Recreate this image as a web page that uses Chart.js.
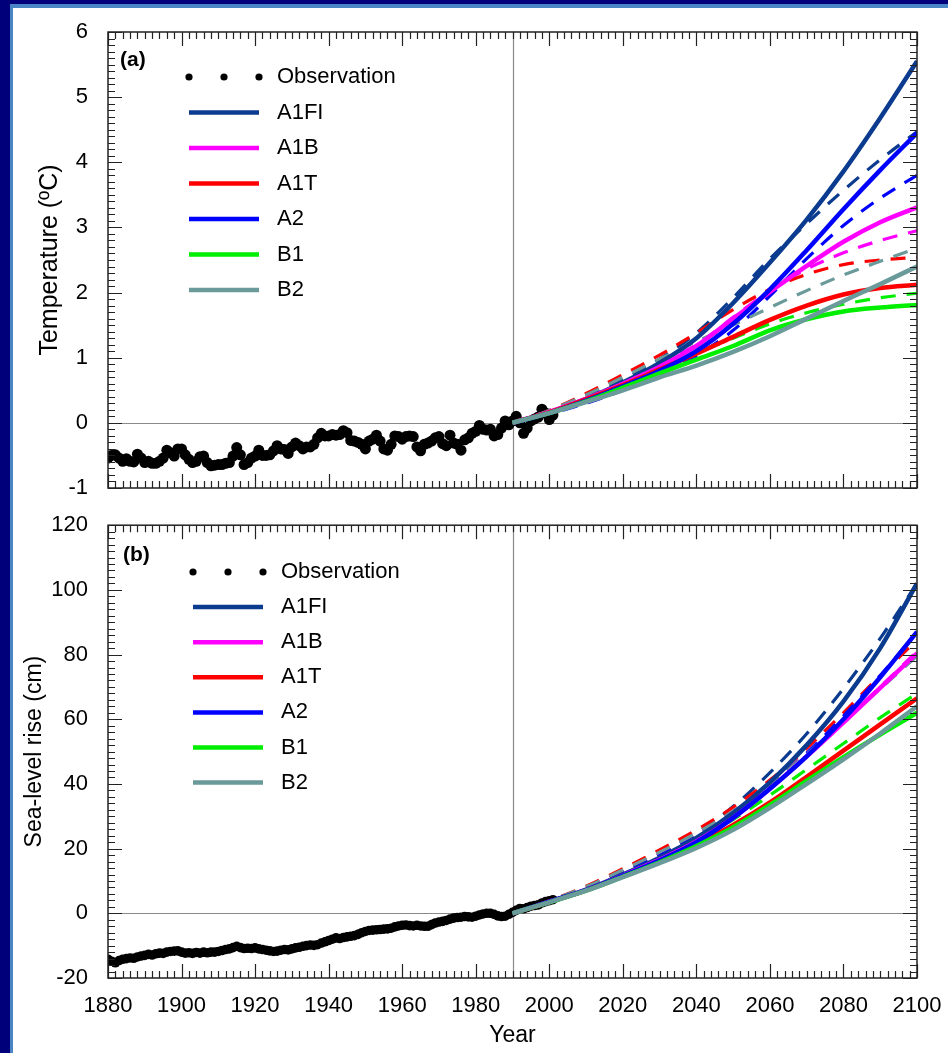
<!DOCTYPE html>
<html>
<head>
<meta charset="utf-8">
<script src="https://cdn.jsdelivr.net/npm/chart.js@4.4.1/dist/chart.umd.min.js"></script>
<style>
  html, body { margin: 0; padding: 0; }
  body { width: 948px; height: 1053px; background: #00007a; position: relative; overflow: hidden; }
  #paper { position: absolute; left: 10px; top: 4px; width: 945px; height: 1060px; background: #fff;
           border-left: 3px solid #4a86c5; border-top: 4px solid #4a86c5; }
  #chartTemp { position: absolute; left: 0; top: 0; }
  #chartSea { position: absolute; left: 0; top: 500px; }
</style>
</head>
<body>
<div id="paper"></div>
<canvas id="chartTemp" width="948" height="520"></canvas>
<canvas id="chartSea" width="960" height="553"></canvas>
<script>
// scenario names and colours (legend order)
const scenarios = ['A1FI', 'A1B', 'A1T', 'A2', 'B1', 'B2'];
const scenarioColors = ['#0b3b8f', '#ff00ff', '#ff0000', '#0000ff', '#00ee00', '#6a9a9a'];

// projection years
const projYears = [1990, 2000, 2010, 2020, 2030, 2040, 2050, 2060, 2070, 2080, 2090, 2100];

// (a) temperature, solid lines
const tA1FI = [0, 0.16, 0.37, 0.62, 0.92, 1.3, 1.84, 2.46, 3.12, 3.86, 4.68, 5.55];
const tA1B  = [0, 0.17, 0.37, 0.6, 0.86, 1.18, 1.6, 2.01, 2.41, 2.78, 3.08, 3.31];
const tA1T  = [0, 0.16, 0.36, 0.58, 0.82, 1.06, 1.32, 1.58, 1.8, 1.97, 2.07, 2.12];
const tA2   = [0, 0.15, 0.34, 0.56, 0.8, 1.1, 1.52, 2.05, 2.65, 3.28, 3.88, 4.45];
const tB1   = [0, 0.15, 0.33, 0.54, 0.76, 0.97, 1.18, 1.42, 1.59, 1.71, 1.77, 1.81];
const tB2   = [0, 0.15, 0.32, 0.5, 0.7, 0.88, 1.09, 1.33, 1.6, 1.87, 2.13, 2.4];
// (a) temperature, dashed lines
const tA1FId = [0, 0.18, 0.4, 0.66, 0.98, 1.38, 1.92, 2.52, 3.06, 3.57, 4.04, 4.47];
const tA1Bd  = [0, 0.17, 0.38, 0.62, 0.9, 1.2, 1.62, 2.03, 2.36, 2.61, 2.8, 2.95];
const tA1Td  = [0, 0.19, 0.45, 0.74, 1.04, 1.38, 1.74, 2.05, 2.28, 2.43, 2.5, 2.54];
const tA2d   = [0, 0.14, 0.3, 0.5, 0.74, 1.03, 1.42, 1.95, 2.52, 3.03, 3.45, 3.8];
const tB1d   = [0, 0.17, 0.38, 0.6, 0.84, 1.07, 1.3, 1.52, 1.69, 1.82, 1.92, 1.99];
const tB2d   = [0, 0.19, 0.43, 0.7, 0.98, 1.25, 1.5, 1.77, 2.03, 2.27, 2.48, 2.68];

// (b) sea level, solid lines
const sA1FI = [0, 3.6, 7.3, 12, 17.2, 23.3, 31, 40.5, 52, 65.5, 82, 102];
const sA1B  = [0, 3.5, 7.2, 11.7, 16.6, 22.2, 29.5, 38.5, 48.5, 59, 69.7, 80.4];
const sA1T  = [0, 3.5, 7.1, 11.4, 16.1, 21.3, 27.3, 34.3, 42.2, 50.3, 58.4, 66.5];
const sA2   = [0, 3.6, 7.2, 11.6, 16.4, 22, 29.5, 38.5, 48.5, 60, 73, 87];
const sB1   = [0, 3.4, 7, 11.3, 15.8, 20.8, 26.6, 33.5, 41, 48.3, 55.3, 62];
const sB2   = [0, 3.4, 7, 11.2, 15.5, 20.2, 25.8, 32.6, 40, 47.6, 55.6, 64];
// (b) sea level, dashed lines
const sA1FId = [0, 3.7, 7.8, 12.8, 18.4, 24.8, 33, 43.5, 55.5, 69.5, 85, 102];
const sA1Bd  = [0, 3.7, 7.9, 13, 18.5, 24.5, 31.5, 40, 49.5, 59.5, 70, 81];
const sA1Td  = [0, 3.9, 8.4, 13.8, 19.6, 25.8, 32.8, 41.2, 51, 62, 73.5, 84.5];
const sA2d   = [0, 3.7, 7.7, 12.6, 18, 24, 31, 39.5, 49.5, 61, 73.5, 87];
const sB1d   = [0, 3.5, 7.3, 11.9, 17, 22.5, 29, 36.5, 44.5, 52.5, 60.5, 68];
const sB2d   = [0, 3.8, 8.2, 13.4, 18.9, 24.8, 31.6, 39.8, 49.2, 59.2, 69.4, 79.5];

// observations, one value per year from 1880
const obsStart = 1880;
const obsTemp = [
  -0.54, -0.50, -0.49, -0.54, -0.59, -0.55, -0.59, -0.60, -0.48, -0.54,
  -0.61, -0.59, -0.62, -0.62, -0.59, -0.54, -0.42, -0.46, -0.51, -0.40,
  -0.40, -0.49, -0.56, -0.61, -0.59, -0.52, -0.51, -0.61, -0.66, -0.65,
  -0.64, -0.64, -0.62, -0.61, -0.51, -0.38, -0.49, -0.64, -0.61, -0.54,
  -0.51, -0.42, -0.50, -0.50, -0.49, -0.43, -0.35, -0.40, -0.41, -0.47,
  -0.37, -0.31, -0.35, -0.40, -0.37, -0.37, -0.33, -0.23, -0.16, -0.20,
  -0.20, -0.18, -0.19, -0.18, -0.12, -0.15, -0.27, -0.28, -0.30, -0.33,
  -0.40, -0.28, -0.25, -0.19, -0.28, -0.40, -0.42, -0.33, -0.20, -0.21,
  -0.25, -0.21, -0.20, -0.21, -0.37, -0.43, -0.33, -0.31, -0.28, -0.23,
  -0.21, -0.32, -0.35, -0.19, -0.31, -0.33, -0.42, -0.26, -0.23, -0.16,
  -0.13, -0.04, -0.10, -0.11, -0.10, -0.20, -0.18, -0.08, 0.03, -0.03,
  0.03, 0.10, 0.00, -0.16, -0.08, 0.03, 0.06, 0.09, 0.21, 0.15,
  0.05, 0.12
];
const obsSea = [
  -14.2, -14.8, -15.3, -14.6, -14.2, -14.0, -13.8, -13.9, -13.5, -13.2,
  -13.0, -12.7, -12.9, -12.5, -12.3, -12.4, -12.0, -11.8, -11.7, -11.6,
  -12.0, -12.3, -12.2, -12.4, -12.1, -12.3, -12.0, -12.2, -12.0, -12.0,
  -11.8, -11.5, -11.2, -11.0, -10.6, -10.2, -10.6, -10.9, -10.8, -10.9,
  -10.7, -11.0, -11.2, -11.4, -11.6, -11.8, -11.7, -11.4, -11.2, -11.3,
  -11.0, -10.7, -10.5, -10.2, -10.0, -9.8, -9.9, -9.7, -9.2, -8.8,
  -8.4, -8.0, -7.6, -7.8, -7.5, -7.3, -7.1, -6.9, -6.5, -6.0,
  -5.6, -5.3, -5.2, -5.1, -5.0, -4.9, -4.8, -4.6, -4.2, -3.9,
  -3.7, -3.6, -3.8, -3.9, -3.7, -3.9, -4.0, -4.0, -3.5, -3.0,
  -2.7, -2.5, -2.2, -1.8, -1.5, -1.3, -1.2, -1.0, -1.1, -1.2,
  -0.9, -0.5, -0.2, 0.0, 0.0, -0.3, -0.8, -1.0, -0.9, -0.3,
  0.3, 0.9, 1.5, 1.4, 1.8, 2.2, 2.4, 2.6, 3.2, 3.6,
  3.9, 4.2
];

const FONT = '"Liberation Sans", Arial, sans-serif';

function toPoints(xs, ys) {
  return ys.map((v, i) => ({ x: xs[i], y: v }));
}

function obsPoints(values) {
  return values.map((v, i) => ({ x: obsStart + i, y: v }));
}

function getDatasets(solid, dashed, obs, dotRadius) {
  let sets = [];
  // bottom first: observation, dashed, then solid
  sets.push({
    label: 'Observation', data: obsPoints(obs), showLine: false,
    pointRadius: dotRadius, pointBackgroundColor: '#000', pointBorderWidth: 0,
    legendDots: true
  });
  dashed.forEach((vals, i) => {
    sets.push({
      label: scenarios[i] + ' (dashed)', data: toPoints(projYears, vals),
      borderColor: scenarioColors[i], borderWidth: 3.2, borderDash: [15, 11],
      pointRadius: 0, cubicInterpolationMode: 'monotone', fill: false
    });
  });
  solid.forEach((vals, i) => {
    sets.push({
      label: scenarios[i], data: toPoints(projYears, vals),
      borderColor: scenarioColors[i], borderWidth: 4.5,
      pointRadius: 0, cubicInterpolationMode: 'monotone', fill: false,
      legendLine: true
    });
  });
  // later datasets drawn on top
  sets.forEach((s, i) => { s.order = sets.length - i; });
  return sets;
}

const decorations = {
  id: 'decorations',
  beforeDatasetsDraw(chart) {
    const { ctx, chartArea: a, scales: { x, y } } = chart;
    ctx.save();
    ctx.strokeStyle = '#8a8a8a';
    ctx.lineWidth = 1.2;
    ctx.beginPath();
    const py = Math.round(y.getPixelForValue(0)) + 0.5;
    ctx.moveTo(a.left, py); ctx.lineTo(a.right, py);
    const px = Math.round(x.getPixelForValue(1990)) + 0.5;
    ctx.moveTo(px, a.top); ctx.lineTo(px, a.bottom);
    ctx.stroke();
    ctx.restore();
  },
  afterDatasetsDraw(chart, args, opts) {
    const { ctx, chartArea: a, scales: { x, y } } = chart;
    ctx.save();
    // frame
    ctx.strokeStyle = '#222';
    ctx.lineWidth = 1.5;
    ctx.strokeRect(a.left, a.top, a.right - a.left, a.bottom - a.top);
    // inward ticks on all sides
    ctx.lineWidth = 1.2;
    ctx.beginPath();
    for (let yr = x.min; yr <= x.max; yr += 2) {
      const px = Math.round(x.getPixelForValue(yr)) + 0.5;
      const len = (yr % 20 === 0) ? 14 : 7;
      ctx.moveTo(px, a.bottom); ctx.lineTo(px, a.bottom - len);
      ctx.moveTo(px, a.top); ctx.lineTo(px, a.top + len);
    }
    const n = Math.round((y.max - y.min) / opts.minor);
    for (let k = 0; k <= n; k++) {
      const v = y.min + k * opts.minor;
      const py = Math.round(y.getPixelForValue(v)) + 0.5;
      const len = (k % opts.perMajor === 0) ? 14 : 7;
      ctx.moveTo(a.left, py); ctx.lineTo(a.left + len, py);
      ctx.moveTo(a.right, py); ctx.lineTo(a.right - len, py);
    }
    ctx.stroke();

    // panel tag
    ctx.fillStyle = '#000';
    ctx.font = 'bold 21px ' + FONT;
    ctx.textBaseline = 'middle';
    ctx.textAlign = 'left';
    ctx.fillText(opts.tag, opts.tagX, opts.tagY);

    // legend
    ctx.font = '22px ' + FONT;
    let row = 0;
    chart.data.datasets.filter(d => d.legendDots).forEach(d => {
      const ly = opts.legY;
      [0, 0.5, 1].forEach(f => {
        ctx.beginPath();
        ctx.arc(opts.legX + f * opts.legW, ly, 3.6, 0, Math.PI * 2);
        ctx.fill();
      });
      ctx.fillText(d.label, opts.legX + opts.legW + 18, ly);
      row++;
    });
    chart.data.datasets.filter(d => d.legendLine).forEach(d => {
      const ly = opts.legY + row * opts.legStep;
      ctx.strokeStyle = d.borderColor;
      ctx.lineWidth = 4.5;
      ctx.beginPath();
      ctx.moveTo(opts.legX, ly); ctx.lineTo(opts.legX + opts.legW, ly);
      ctx.stroke();
      ctx.fillText(d.label, opts.legX + opts.legW + 18, ly);
      row++;
    });
    ctx.restore();
  }
};

function getChartOptions(cfg) {
  return {
    responsive: false,
    animation: false,
    layout: { padding: { left: 0, top: cfg.padTop, right: cfg.padRight, bottom: 0 } },
    plugins: {
      legend: { display: false },
      tooltip: { enabled: false },
      decorations: cfg.deco
    },
    scales: {
      x: {
        type: 'linear', min: 1880, max: 2100,
        grid: { display: false }, border: { display: false },
        ticks: {
          display: cfg.showX, stepSize: 20, padding: 7, color: '#000',
          font: { family: FONT, size: 22 },
          callback: v => String(v)
        },
        title: {
          display: cfg.showX, text: 'Year', color: '#000',
          font: { family: FONT, size: 23 }, padding: { top: 0, bottom: 4 }
        },
        afterFit: s => { s.height = cfg.xHeight; }
      },
      y: {
        min: cfg.yMin, max: cfg.yMax,
        grid: { display: false }, border: { display: false },
        ticks: {
          stepSize: cfg.yStep, padding: 12, color: '#000',
          font: { family: FONT, size: 22 }
        },
        title: {
          display: true, text: cfg.yTitle, color: '#000',
          font: { family: FONT, size: cfg.titleSize }, padding: { top: cfg.titlePad, bottom: 0 }
        },
        afterFit: s => { s.width = 108; }
      }
    }
  };
}

function getChart(id, datasets, cfg) {
  const ctx = document.getElementById(id);
  return new Chart(ctx, {
    type: 'line',
    data: { datasets: datasets },
    options: getChartOptions(cfg),
    plugins: [decorations]
  });
}

/* Chart (a) temperature */
chartTemp = getChart('chartTemp',
  getDatasets([tA1FI, tA1B, tA1T, tA2, tB1, tB2], [tA1FId, tA1Bd, tA1Td, tA2d, tB1d, tB2d], obsTemp, 5.5),
  {
    padTop: 32, padRight: 31, xHeight: 32, showX: false,
    yMin: -1, yMax: 6, yStep: 1, yTitle: 'Temperature (ºC)', titleSize: 25, titlePad: 35,
    deco: { minor: 0.1, perMajor: 10, tag: '(a)', tagX: 120, tagY: 60,
            legX: 189, legY: 77, legW: 70, legStep: 35.5 }
  });

/* Chart (b) sea level */
chartSea = getChart('chartSea',
  getDatasets([sA1FI, sA1B, sA1T, sA2, sB1, sB2], [sA1FId, sA1Bd, sA1Td, sA2d, sB1d, sB2d], obsSea, 4.8),
  {
    padTop: 23, padRight: 43, xHeight: 75, showX: true,
    yMin: -20, yMax: 120, yStep: 20, yTitle: 'Sea-level rise (cm)', titleSize: 23, titlePad: 21,
    deco: { minor: 2, perMajor: 10, tag: '(b)', tagX: 123, tagY: 55,
            legX: 193, legY: 72, legW: 70, legStep: 35.1 }
  });
</script>
</body>
</html>
